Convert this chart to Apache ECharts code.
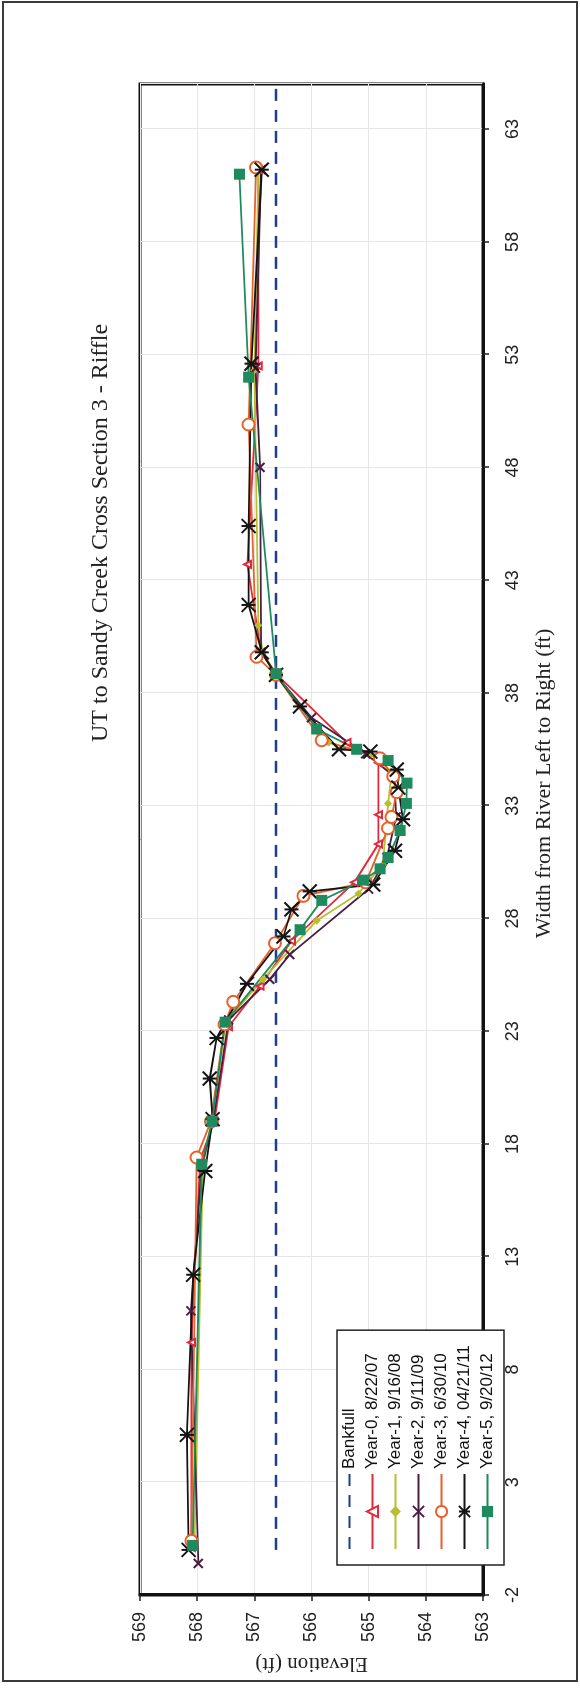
<!DOCTYPE html>
<html>
<head>
<meta charset="utf-8">
<title>UT to Sandy Creek Cross Section 3 - Riffle</title>
<script src="https://cdn.jsdelivr.net/npm/echarts@6/dist/echarts.min.js"></script>
<style>
  html, body { margin: 0; padding: 0; width: 580px; height: 1688px; overflow: hidden; background: #fff; }
  /* The chart is laid out landscape and turned a quarter turn counter-clockwise onto the portrait page. */
  #chart {
    position: absolute; left: 0; top: 0;
    width: 1688px; height: 580px;
    transform-origin: 0 0;
    transform: translate(0, 1688px) rotate(-90deg);
  }
</style>
</head>
<body>
<div id="chart"></div>
<script>
// Survey stations: [width from river left (ft), elevation (ft)]
const bankfull = [[0, 566.62], [65, 566.62]];

const year0 = [[0.1, 568.1], [9.2, 568.1], [17.3, 567.95], [19.0, 567.7], [23.2, 567.45], [25.0, 566.9],
  [27.0, 566.35], [29.6, 565.25], [31.3, 564.83], [32.6, 564.83], [34.9, 564.83], [35.8, 565.38],
  [38.8, 566.6], [39.8, 566.88], [43.7, 567.12], [52.5, 566.93], [61.2, 566.93]];

const year1 = [[0.1, 568.05], [17.0, 567.9], [19.0, 567.75], [23.4, 567.5], [25.3, 566.85], [27.9, 565.91],
  [29.1, 565.18], [30.4, 564.75], [33.1, 564.66], [34.5, 564.6], [35.3, 564.95], [35.8, 565.7],
  [38.8, 566.62], [39.8, 566.85], [41.0, 566.93], [52.3, 567.0], [61.2, 566.93]];

const year2 = [[-0.6, 567.98], [10.6, 568.11], [17.0, 567.92], [19.0, 567.72], [23.5, 567.45], [25.3, 566.73],
  [26.4, 566.38], [29.3, 565.0], [30.7, 564.68], [32.5, 564.52], [34.3, 564.55], [35.3, 565.05],
  [36.9, 566.0], [38.8, 566.62], [39.8, 566.88], [48.0, 566.9], [52.4, 566.98], [61.2, 566.88]];

const year3 = [[0.4, 568.1], [17.4, 568.01], [19.0, 567.76], [23.3, 567.52], [24.3, 567.37], [26.9, 566.64],
  [29.0, 566.14], [29.6, 565.05], [32.0, 564.66], [32.5, 564.6], [33.6, 564.51], [34.3, 564.57],
  [35.1, 564.8], [35.9, 565.82], [38.8, 566.62], [39.6, 566.96], [49.9, 567.1], [61.3, 566.97]];

const year4 = [[0.0, 568.15], [5.1, 568.18], [12.2, 568.07], [16.8, 567.86], [19.1, 567.73], [20.9, 567.78],
  [22.7, 567.66], [25.1, 567.13], [27.2, 566.49], [28.4, 566.35], [29.2, 566.03], [29.5, 564.92],
  [31.0, 564.54], [32.4, 564.4], [33.8, 564.48], [34.6, 564.51], [35.4, 564.97], [35.5, 565.52],
  [37.4, 566.2], [38.8, 566.62], [39.8, 566.87], [41.9, 567.1], [45.4, 567.1], [52.6, 567.05], [61.2, 566.87]];

const year5 = [[0.2, 568.08], [17.1, 567.92], [19.0, 567.74], [23.4, 567.51], [27.5, 566.2], [28.8, 565.82],
  [29.7, 565.09], [30.2, 564.8], [30.7, 564.66], [31.9, 564.45], [33.1, 564.34], [34.0, 564.33],
  [35.0, 564.66], [35.5, 565.21], [36.4, 565.91], [38.85, 566.62], [52.0, 567.1], [61.0, 567.26]];

const seriesNames = ['Bankfull', 'Year-0, 8/22/07', 'Year-1, 9/16/08', 'Year-2, 9/11/09',
  'Year-3, 6/30/10', 'Year-4, 04/21/11', 'Year-5, 9/20/12'];

const titleText = 'UT to Sandy Creek Cross Section 3 - Riffle';
const xAxisName = 'Width from River Left to Right (ft)';
const yAxisName = 'Elevation (ft)';

const SERIF = '"Liberation Serif", "Times New Roman", serif';
const SANS = '"Liberation Sans", Arial, sans-serif';

const crossPath = 'path://M0,0L10,10M10,0L0,10';
const starPath = 'path://M5,0L5,10M0,0L10,10M10,0L0,10';

function survey(name, data, color, symbol, size, opts) {
  opts = opts || {};
  return {
    name: name,
    type: 'line',
    data: data,
    symbol: symbol,
    symbolSize: size,
    showSymbol: true,
    lineStyle: { color: color, width: 1.8 },
    itemStyle: Object.assign({ color: color, borderColor: color, borderWidth: 1.6 }, opts.itemStyle || {}),
    z: opts.z || 3,
    animation: false
  };
}

// The bankfull entry in the legend shows only its dashed line.
const legendData = seriesNames.map(function (n, i) {
  return i === 0 ? { name: n, itemStyle: { opacity: 0 } } : { name: n };
});

const chart = echarts.init(document.getElementById('chart'), null, { renderer: 'canvas' });

chart.setOption({
  backgroundColor: '#fff',
  animation: false,
  title: {
    text: titleText,
    left: 946,
    top: 89,
    padding: 0,
    textStyle: { fontFamily: SERIF, fontSize: 24, fontWeight: 'normal', color: '#222' }
  },
  graphic: [{
    type: 'rect',
    shape: { x: 7, y: 3, width: 1679, height: 574 },
    style: { fill: 'none', stroke: '#3a3a3a', lineWidth: 2 },
    silent: true
  }],
  grid: {
    left: 93, top: 140, width: 1511, height: 343,
    show: true, borderColor: '#111', borderWidth: 3, backgroundColor: 'transparent'
  },
  legend: {
    orient: 'vertical',
    left: 123,
    top: 337,
    padding: [4, 15, 8, 15],
    backgroundColor: '#fff',
    borderColor: '#222',
    borderWidth: 1.5,
    itemWidth: 75,
    itemHeight: 14,
    itemGap: 6,
    data: legendData,
    textStyle: { fontFamily: SANS, fontSize: 17, color: '#111', lineHeight: 14 }
  },
  xAxis: {
    type: 'value',
    min: -2,
    max: 65,
    interval: 5,
    name: xAxisName,
    nameLocation: 'middle',
    nameGap: 50,
    nameTextStyle: { fontFamily: SERIF, fontSize: 22, color: '#222', padding: [0, 0, 0, 112] },
    axisLine: { show: true, onZero: false, lineStyle: { color: '#111', width: 3 } },
    axisTick: { show: true, inside: false, length: 6, lineStyle: { color: '#222', width: 1.5 } },
    axisLabel: { showMaxLabel: false, margin: 21, fontFamily: SANS, fontSize: 18, color: '#222' },
    splitLine: { show: true, lineStyle: { color: '#e6e6e6', width: 1 } }
  },
  yAxis: {
    type: 'value',
    min: 563,
    max: 569,
    interval: 1,
    name: yAxisName,
    nameLocation: 'middle',
    nameGap: 55,
    nameTextStyle: { fontFamily: SERIF, fontSize: 21, color: '#222' },
    axisLine: { show: true, onZero: false, lineStyle: { color: '#111', width: 3 } },
    axisTick: { show: true, inside: false, length: 6, lineStyle: { color: '#222', width: 1.5 } },
    axisLabel: { margin: 17, fontFamily: SANS, fontSize: 18, color: '#222' },
    splitLine: { show: true, lineStyle: { color: '#e6e6e6', width: 1 } }
  },
  series: [
    {
      name: seriesNames[0],
      type: 'line',
      data: bankfull,
      symbol: 'none',
      lineStyle: { color: '#1f3d8c', width: 2.6, type: [12, 9] },
      itemStyle: { color: '#1f3d8c' },
      z: 2,
      animation: false
    },
    survey(seriesNames[1], year0, '#e2283a', 'emptyTriangle', 7),
    survey(seriesNames[2], year1, '#b6c02c', 'diamond', 8, { itemStyle: { borderWidth: 0 } }),
    survey(seriesNames[3], year2, '#4a1e42', crossPath, 9, { itemStyle: { borderWidth: 2 } }),
    survey(seriesNames[4], year3, '#e8602a', 'emptyCircle', 12, { itemStyle: { borderWidth: 1.8 } }),
    survey(seriesNames[5], year4, '#141414', starPath, 14, { itemStyle: { borderWidth: 2 } }),
    survey(seriesNames[6], year5, '#1e8a5e', 'rect', 11, { itemStyle: { borderWidth: 0 } })
  ]
});
</script>
</body>
</html>
